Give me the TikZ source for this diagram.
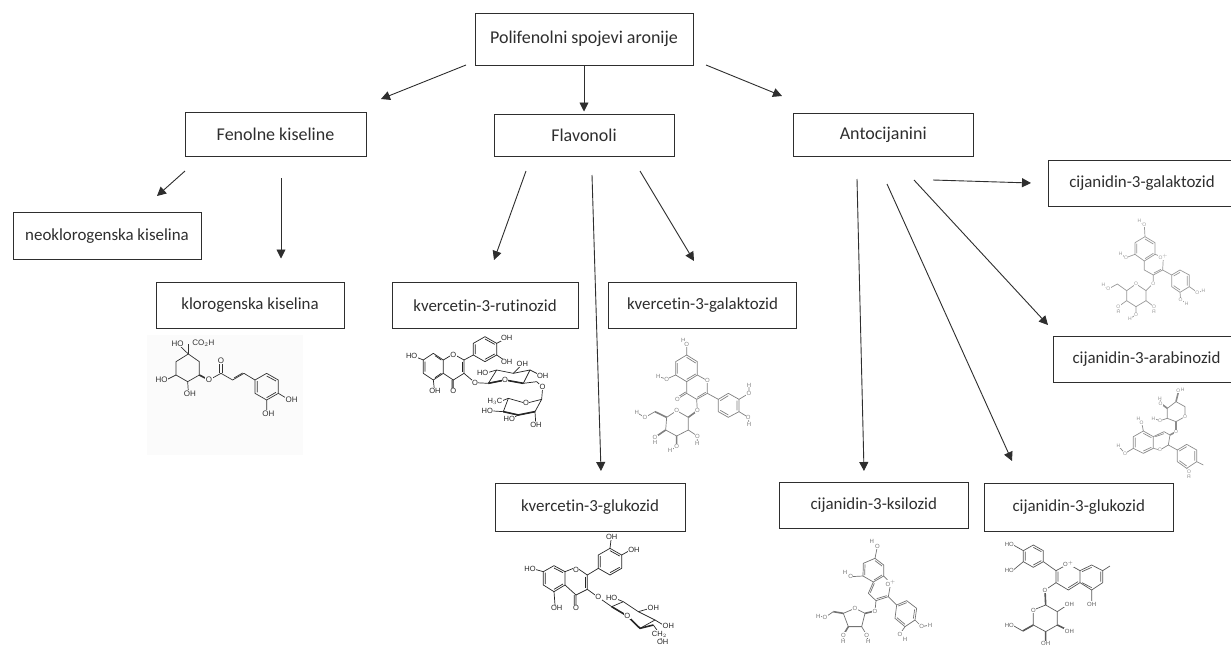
\documentclass[tikz,border=0pt]{standalone}
\usepackage{fontspec}
\setmainfont{Carlito}[Ligatures=NoCommon]
\newfontfamily\molfont{Liberation Sans}
\usetikzlibrary{arrows.meta}
\definecolor{ink}{HTML}{2E2E2E}
\newcount\atomc
\def\atm(#1,#2)#3{\global\advance\atomc by 1\relax\node[lab] (a\the\atomc) at (#1,#2) {#3};}
\tikzset{
  box/.style={draw=ink,line width=0.9pt,fill=white,text=ink,inner sep=0pt,font=\fontsize{16.9}{20}\selectfont},
  bigbox/.style={box,font=\fontsize{18}{21}\selectfont},
  conn/.style={draw=ink,line width=0.9pt,-{Triangle[length=9pt,width=9pt]}},
  bd/.style={line width=0.7pt,line join=round},
  wd/.style={line width=1.6pt},
  lab/.style={inner sep=0.4pt,fill=white,font=\molfont\fontsize{7.5}{8}\selectfont},
  mol/.style={shift={#1},x=0.3333pt,y=-0.3333pt},
}
\newcommand\mkbox[7][box]{\node[#1,minimum width=#5pt-#3pt,minimum height=#6pt-#4pt] (#2) at ({(#3+#5)/2},{(#4+#6)/2}) {#7};}
\begin{document}
\begin{tikzpicture}[x=1pt,y=-1pt]
\useasboundingbox (0,0) rectangle (1231,646);
\fill[white] (0,0) rectangle (1231,646);

% boxes
\mkbox[bigbox]{root}{475}{13.5}{693}{65}{Polifenolni spojevi aronije}
\mkbox[bigbox]{fen}{185}{112.5}{366}{156}{Fenolne kiseline}
\mkbox[bigbox]{flav}{494}{114.5}{674}{156}{Flavonoli}
\mkbox[bigbox]{ant}{793}{113.5}{973.5}{156}{Antocijanini}
\mkbox{neo}{13}{212.5}{201}{259}{neoklorogenska kiselina}
\mkbox{klor}{156}{282.5}{344}{328.5}{klorogenska kiselina}
\mkbox{rut}{392}{282.5}{578}{328.5}{kvercetin-3-rutinozid}
\mkbox{qgal}{608.5}{282.5}{796.5}{328.5}{kvercetin-3-galaktozid}
\mkbox{qglu}{495}{483.5}{685}{531}{kvercetin-3-glukozid}
\mkbox{xyl}{779.5}{482.5}{968}{528.5}{cijanidin-3-ksilozid}
\mkbox{cglu}{984.5}{483.5}{1173}{531}{cijanidin-3-glukozid}
\mkbox{cgal}{1048}{160}{1240}{206}{\hspace*{-4pt}cijanidin-3-galaktozid}
\mkbox{cara}{1053}{336.5}{1240}{382}{cijanidin-3-arabinozid}

% connector free ends
\coordinate (s1) at (466,65);   \coordinate (e1) at (381,99);
\coordinate (s2) at (584,65);   \coordinate (e2) at (584,111.5);
\coordinate (s3) at (706,65);   \coordinate (e3) at (782,96);
\coordinate (s4) at (185,171);  \coordinate (e4) at (157,196);
\coordinate (s5) at (281,178);  \coordinate (e5) at (281,258.5);
\coordinate (s6) at (526,171);  \coordinate (e6) at (494,260);
\coordinate (s7) at (592,175);  \coordinate (e7) at (601,471);
\coordinate (s8) at (640,171);  \coordinate (e8) at (694,261);
\coordinate (s9) at (933,180);  \coordinate (e9) at (1031,183);
\coordinate (s10) at (914,180); \coordinate (e10) at (1048,325);
\coordinate (s11) at (857,179); \coordinate (e11) at (864,471);
\coordinate (s12) at (887,184); \coordinate (e12) at (1012,461);
\foreach \i in {1,...,12} {\draw[conn] (s\i) -- (e\i);}

% chlorogenic acid
\fill[black!1.5] (147,335) rectangle (303,455);
\begin{scope}[mol={(140,330)},draw=black!80,text=black!80,lab/.append style={fill=black!1.5,font=\molfont\fontsize{8}{9}\selectfont}]
\draw[bd] (145,72)--(178,95)--(178,135)--(143,155)--(108,135)--(108,95)--cycle;
\draw[wd] (145,72)--(145,42);
\draw[bd] (145,72)--(120,48);
\draw[wd] (178,135)--(207,150);
\draw[bd] (108,135)--(78,150);
\draw[bd] (143,155)--(145,185);
\draw[bd] (207,150)--(243,130)--(278,150)--(312,130)--(345,150);
\draw[bd] (345,150)--(380,130)--(415,150)--(415,190)--(380,210)--(345,190)--cycle;
\draw[bd] (238,130)--(238,95) (248,130)--(248,95);
\draw[bd] (282,144)--(308,129) (352,187)--(352,153) (380,138)--(408,153) (408,187)--(380,203);
\draw[bd] (415,190)--(440,205) (380,210)--(380,240);
\atm(113,40){HO}\atm(190,40){CO$_2$H}\atm(65,150){HO}\atm(150,190){OH}
\atm(207,150){O}\atm(243,92){O}\atm(455,210){OH}\atm(385,250){OH}
\end{scope}

% kvercetin-3-rutinozid
\begin{scope}[mol={(390,330)},draw=black!85,text=black!85]
\draw[bd] (100,90)--(130,70)--(160,90)--(160,130)--(130,150)--(100,130)--cycle;
\draw[bd] (105,95)--(105,125) (135,77)--(154,90) (135,143)--(154,130);
\draw[bd] (160,90)--(190,72)--(222,90)--(222,130)--(190,150)--(160,130);
\draw[bd] (217,95)--(217,125);
\draw[bd] (100,90)--(75,80) (130,150)--(133,178) (190,150)--(190,178) (186,150)--(186,178);
\draw[bd] (222,130)--(255,158);
\draw[bd] (222,90)--(250,75);
\draw[bd] (250,75)--(250,40)--(285,20)--(320,40)--(320,75)--(285,95)--cycle;
\draw[bd] (256,72)--(256,43) (285,27)--(314,43) (314,72)--(285,88);
\draw[bd] (320,40)--(345,27) (320,75)--(345,92);
\draw[bd] (255,158)--(295,160);
\draw[bd] (295,160)--(345,150)--(400,160)--(420,120)--(370,130)--(320,120)--cycle;
\draw[wd] (295,160)--(345,150) (345,150)--(400,160);
\draw[bd] (320,120)--(292,128) (370,130)--(392,108) (420,120)--(450,135);
\draw[bd] (400,160)--(440,155)--(458,172)--(455,208);
\draw[bd] (455,208)--(408,220)--(355,205)--(340,245)--(385,255)--(435,245)--cycle;
\draw[wd] (340,245)--(385,255)--(435,245);
\draw[bd] (355,205)--(330,215) (340,245)--(310,243) (385,255)--(365,265) (435,245)--(437,275);
\atm(65,78){HO}\atm(190,75){O}\atm(135,182){OH}\atm(190,182){O}
\atm(350,25){OH}\atm(350,95){OH}\atm(255,158){O}\atm(278,128){HO}\atm(397,103){OH}\atm(458,138){OH}
\atm(345,150){O}\atm(458,172){O}\atm(408,220){O}\atm(315,215){H$_3$C}\atm(292,243){HO}\atm(358,267){HO}\atm(438,285){OH}
\end{scope}

% kvercetin-3-galaktozid
\begin{scope}[mol={(620,330)},draw=black!50,text=black!50,lab/.append style={font=\molfont\fontsize{6}{7}\selectfont}]
\draw[bd] (200,75)--(232,95)--(232,135)--(200,155)--(167,135)--(167,95)--cycle;
\draw[bd] (172,99)--(172,131) (200,82)--(227,99) (200,148)--(227,132);
\draw[bd] (232,135)--(262,152)--(262,190)--(230,208)--(200,190)--(200,155);
\draw[bd] (257,187)--(232,202);
\draw[bd] (200,75)--(200,42)--(190,30) (167,135)--(140,147)--(115,140);
\draw[bd] (200,190)--(172,207) (197,186)--(170,203);
\draw[bd] (230,208)--(232,242) (262,190)--(295,208);
\draw[bd] (295,208)--(325,190)--(357,208)--(357,245)--(325,262)--(295,245)--cycle;
\draw[bd] (301,212)--(325,197) (351,212)--(351,241) (325,255)--(301,241);
\draw[bd] (357,208)--(387,190)--(387,165) (357,245)--(385,262)--(387,283);
\draw[wd] (232,242)--(205,262);
\draw[bd] (205,262)--(170,242)--(140,262)--(137,300)--(170,318)--(205,300)--cycle;
\draw[wd] (140,262)--(105,245) (137,300)--(105,322) (170,318)--(170,350);
\draw[bd] (105,245)--(75,262)--(50,248) (205,300)--(232,318)--(232,340) (105,322)--(105,338) (170,350)--(150,362);
\atm(190,30){H}\atm(200,42){O}\atm(115,140){H}\atm(140,147){O}\atm(262,152){O}\atm(172,207){O}\atm(387,190){O}\atm(387,165){H}\atm(385,262){O}\atm(387,283){H}\atm(232,242){O}\atm(170,242){O}\atm(75,262){O}\atm(50,248){H}\atm(105,322){O}\atm(105,338){H}\atm(170,350){O}\atm(150,362){H}\atm(232,318){O}\atm(232,340){H}
\end{scope}

% kvercetin-3-glukozid
\begin{scope}[mol={(510,530)},draw=black!85,text=black!85]
\draw[bd] (100,125)--(132,107)--(165,125)--(165,165)--(132,185)--(100,165)--cycle;
\draw[bd] (106,128)--(106,162) (132,114)--(159,128) (132,178)--(159,162);
\draw[bd] (165,125)--(198,112)--(232,135)--(232,178)--(198,195)--(165,165);
\draw[bd] (226,140)--(226,174);
\draw[bd] (100,125)--(75,118) (132,185)--(135,225) (198,195)--(198,230) (193,195)--(193,230);
\draw[bd] (232,178)--(265,202) (232,135)--(265,115);
\draw[bd] (265,115)--(265,75)--(300,55)--(335,75)--(335,115)--(300,135)--cycle;
\draw[bd] (271,112)--(271,78) (300,62)--(329,78) (329,112)--(300,128);
\draw[bd] (300,55)--(303,30) (335,75)--(358,62);
\draw[bd] (265,202)--(305,230);
\draw[bd] (305,230)--(352,258)--(390,295)--(435,270)--(385,245)--(340,215)--cycle;
\draw[wd] (305,230)--(352,258) (352,258)--(390,295)--(430,285);
\draw[bd] (340,215)--(320,207) (385,245)--(420,235) (435,270)--(460,285) (430,285)--(448,310)--(456,333);
\atm(60,118){HO}\atm(198,120){O}\atm(140,235){OH}\atm(198,235){O}\atm(305,20){OH}\atm(372,60){OH}\atm(265,202){O}\atm(305,205){HO}\atm(430,235){OH}\atm(475,288){OH}\atm(448,312){CH$_2$}\atm(352,258){O}\atm(458,335){OH}
\end{scope}

% cijanidin-3-ksilozid
\begin{scope}[mol={(800,530)},draw=black!55,text=black!55,lab/.append style={font=\molfont\fontsize{6}{7}\selectfont}]
\draw[bd] (225,85)--(251,105)--(251,138)--(220,156)--(189,138)--(190,100)--cycle;
\draw[bd] (195,103)--(194,135) (225,92)--(246,108) (222,150)--(246,135);
\draw[bd] (251,138)--(272,160)--(265,200)--(228,212)--(205,190)--(220,156);
\draw[bd] (260,197)--(230,206) (211,188)--(223,160);
\draw[bd] (225,85)--(232,50) (189,138)--(152,140)--(135,127);
\draw[bd] (228,212)--(225,243) (265,200)--(290,225);
\draw[bd] (290,225)--(320,212)--(350,235)--(345,270)--(315,290)--(285,265)--cycle;
\draw[bd] (295,228)--(320,218) (344,238)--(340,266) (315,283)--(291,263);
\draw[bd] (345,270)--(365,290)--(390,285) (315,290)--(300,312)--(315,327);
\draw[wd] (225,243)--(195,250) (130,250)--(100,245) (145,290)--(130,315);
\draw[bd] (195,250)--(165,235)--(130,250)--(145,290)--(185,290)--cycle;
\draw[wd] (145,290)--(185,290);
\draw[bd] (100,245)--(75,262)--(55,258) (185,290)--(200,315)--(205,335) (130,315)--(130,335);
\atm(215,35){H}\atm(232,50){O}\atm(135,127){H}\atm(152,140){O}\atm(272,160){O$^+$}\atm(225,243){O}\atm(165,235){O}\atm(365,290){O}\atm(390,285){H}\atm(300,312){O}\atm(315,327){H}\atm(75,262){O}\atm(55,258){H}\atm(130,315){O}\atm(130,335){H}\atm(200,315){O}\atm(205,335){H}
\end{scope}

% cijanidin-3-glukozid
\begin{scope}[mol={(980,530)},draw=black!65,text=black!65,lab/.append style={font=\molfont\fontsize{6}{7}\selectfont}]
\draw[bd] (130,62)--(160,45)--(190,62)--(190,95)--(160,112)--(130,95)--cycle;
\draw[bd] (136,65)--(136,92) (160,52)--(184,65) (184,92)--(160,105);
\draw[bd] (130,62)--(100,45) (130,95)--(100,120) (190,95)--(228,122);
\draw[bd] (228,122)--(265,102)--(300,122)--(300,158)--(265,180)--(228,158)--cycle;
\draw[bd] (234,125)--(234,155) (265,173)--(294,155);
\draw[bd] (300,122)--(335,105)--(368,122)--(368,158)--(335,180)--(300,158);
\draw[bd] (306,125)--(335,112) (362,125)--(362,155) (335,173)--(306,158);
\draw[bd] (368,122)--(390,108) (335,180)--(335,215) (228,158)--(195,180);
\draw[wd] (195,180)--(197,225) (232,285)--(262,300) (160,285)--(128,303) (197,305)--(197,335);
\draw[bd] (197,225)--(232,245)--(232,285)--(197,305)--(160,285)--(160,240)--cycle;
\draw[bd] (232,245)--(262,225) (128,303)--(100,287);
\atm(88,43){HO}\atm(88,122){HO}\atm(265,102){O$^+$}\atm(195,180){O}\atm(335,222){OH}\atm(160,240){O}\atm(268,222){OH}\atm(268,303){OH}\atm(197,340){OH}\atm(88,285){HO}
\end{scope}

% cijanidin-3-galaktozid
\begin{scope}[mol={(1080,205)},draw=black!40,text=black!40,lab/.append style={font=\molfont\fontsize{5}{6}\selectfont}]
\draw[bd] (195,95)--(225,113)--(225,148)--(193,168)--(165,148)--(165,113)--cycle;
\draw[bd] (170,116)--(170,145) (195,102)--(220,117) (195,161)--(220,145);
\draw[bd] (225,148)--(250,157)--(248,195)--(220,210)--(193,195)--(193,168);
\draw[bd] (243,193)--(222,204);
\draw[bd] (195,95)--(193,60)--(178,48) (165,148)--(138,158)--(122,147);
\draw[bd] (220,210)--(220,235)--(198,257);
\draw[bd] (198,257)--(168,237)--(140,257)--(140,287)--(168,305)--(198,287)--cycle;
\draw[bd] (140,257)--(112,237)--(85,252)--(70,240) (140,287)--(115,305)--(115,320) (168,305)--(168,330)--(150,340) (198,287)--(222,305)--(222,320);
\draw[bd] (248,195)--(275,210);
\draw[bd] (275,210)--(300,195)--(328,210)--(328,245)--(300,262)--(275,245)--cycle;
\draw[bd] (281,213)--(300,202) (322,213)--(322,242) (300,255)--(281,242);
\draw[bd] (328,245)--(352,262)--(370,258) (300,262)--(302,285)--(320,295);
\atm(178,48){H}\atm(193,60){O}\atm(122,147){H}\atm(138,158){O}\atm(250,157){O$^+$}\atm(220,235){O}\atm(168,237){O}\atm(85,252){O}\atm(70,240){H}\atm(115,305){O}\atm(115,320){H}\atm(168,330){O}\atm(150,340){H}\atm(222,305){O}\atm(222,320){H}\atm(352,262){O}\atm(370,258){H}\atm(302,285){O}\atm(320,295){H}
\end{scope}

% cijanidin-3-arabinozid
\begin{scope}[mol={(1090,385)},draw=black!45,text=black!45,lab/.append style={font=\molfont\fontsize{5}{6}\selectfont}]
\draw[bd] (130,155)--(160,138)--(190,155)--(190,190)--(160,205)--(130,190)--cycle;
\draw[bd] (136,158)--(136,187) (160,145)--(184,158) (160,198)--(184,187);
\draw[bd] (190,155)--(222,140)--(240,150)--(235,180)--(210,195)--(190,190);
\draw[bd] (196,155)--(222,146);
\draw[bd] (160,138)--(155,112)--(145,100) (130,190)--(105,205)--(85,183);
\draw[bd] (235,180)--(262,195);
\draw[bd] (262,195)--(290,178)--(320,195)--(320,230)--(290,250)--(262,230)--cycle;
\draw[bd] (268,198)--(290,185) (314,198)--(314,227) (290,243)--(268,227);
\draw[bd] (290,250)--(297,260)--(297,275) (320,230)--(340,240);
\draw[wd] (240,150)--(258,140)--(258,110);
\draw[bd] (258,110)--(285,95)--(285,65)--(258,50)--(232,70)--(232,100)--cycle;
\draw[wd] (258,50)--(265,22) (232,70)--(212,55);
\draw[bd] (232,100)--(210,107)--(190,100) (212,55)--(210,40);
\atm(265,18){O}\atm(278,14){H}\atm(210,40){H}\atm(212,55){O}\atm(190,100){H}\atm(210,107){O}\atm(145,100){H}\atm(155,112){O}\atm(85,183){H}\atm(105,205){O}\atm(285,95){O}\atm(258,140){O}\atm(210,195){O}\atm(297,260){O}\atm(297,275){H}
\end{scope}
\end{tikzpicture}
\end{document}
